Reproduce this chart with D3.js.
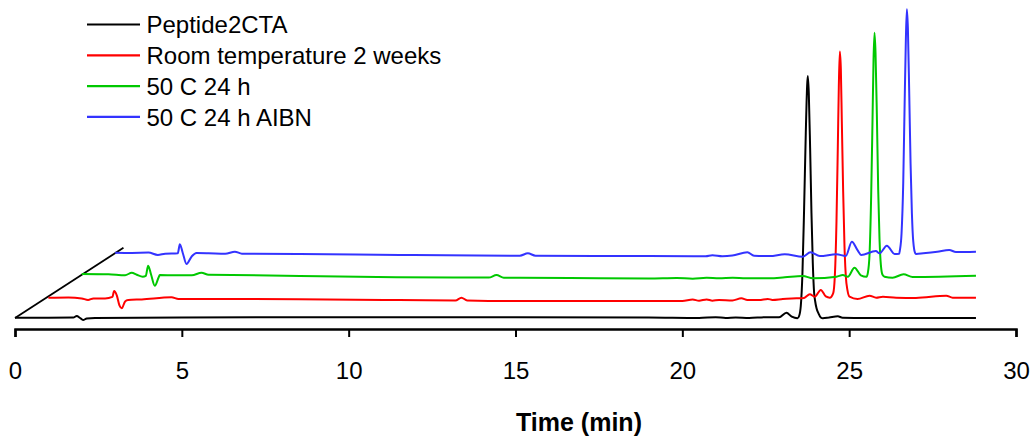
<!DOCTYPE html>
<meta charset="utf-8">
<script src="https://d3js.org/d3.v7.min.js"></script>
<style>
body { margin: 0; background: #fff; }
text { font-family: "Liberation Sans", Arial, sans-serif; }
</style>
<div id="chart"></div>
<script>
// series names and colours
var names = ["Peptide2CTA", "Room temperature 2 weeks", "50 C 24 h", "50 C 24 h AIBN"];
var colors = ["#000000", "#ff0000", "#00c800", "#3333ff"];
var xTicks = [0, 5, 10, 15, 20, 25, 30];

// each trace is stacked: shifted 1 min right and stackStep up from the previous one
var stackMin = 1;
var stackStep = 21.6;
var depthLine = [0, 3.25];   // diagonal "depth" axis, in stack units

// black: Peptide2CTA (time in min, signal)
var peptideTime = [0, 1.0, 1.75, 1.85, 1.95, 2.04, 2.15, 2.4, 5, 10, 15, 19, 20.5, 21.0, 21.3, 21.6, 22.0, 22.5, 22.9,
  23.12, 23.28, 23.45, 23.5, 23.55, 23.6, 23.65, 23.7, 23.74, 23.76, 23.79, 23.83, 23.87, 23.91, 23.95, 23.98,
  24.02, 24.08, 24.15, 24.21, 24.4, 24.66, 24.8, 25.5, 28.8];
var peptideSignal = [0.3, 0.3, 0.5, 2, 0, -2, -0.5, 0, 0.5, 0.7, 0.7, 0.5, 0, 0.8, 0, 0.5, 0, 0.8, 0.8,
  5.3, 1.3, -0.3, 2, 12, 45, 110, 185, 232, 242, 225, 170, 105, 55, 25, 17,
  10, 4.7, 0.5, -0.3, 0.5, 1.7, 0.3, 0, 0];

// red: Room temperature 2 weeks
var roomTime = [0, 0.6, 1.0, 1.19, 1.35, 1.7, 1.92, 1.97, 2.05, 2.13, 2.2, 2.3, 2.39, 2.8, 3.69, 3.9, 5, 7.5, 10.5,
  12.2, 12.38, 12.55, 14.1, 16.5, 19.0, 19.31, 19.5, 19.73, 19.9, 20.1, 20.5, 20.77, 20.95, 21.3, 21.56, 21.7,
  22.01, 22.42, 22.65, 22.82, 22.97, 23.15, 23.3, 23.42, 23.52, 23.57, 23.62, 23.66, 23.69, 23.72, 23.75, 23.78,
  23.82, 23.86, 23.9, 23.95, 24.01, 24.25, 24.61, 24.81, 25.01, 25.41, 26.0, 26.91, 27.1, 27.8];
var roomSignal = [-1.3, -1.0, -2.0, -3.6, -2.0, -2.0, -0.5, 5.4, 1, -9, -11.9, -5, -3.6, -3, -0.9, -2.5, -2.5, -2.9, -3.6,
  -4, -1.3, -4, -4.6, -4.6, -4.6, -3.2, -4.3, -3.0, -4.3, -3.6, -4, -1.9, -3.6, -3.6, -2.5, -3.5,
  -2.6, -1.9, -1.5, 2.1, -0.3, 6.4, 0, -1.3, 3, 20, 75, 150, 210, 245, 228, 175,
  105, 50, 20, 6, -0.3, -2.6, 0.7, -1.3, -0.3, -1.3, -1.5, 0.7, -1.3, -1.3];

// green: 50 C 24 h
var heatTime = [0, 0.8, 1.3, 1.5, 1.65, 1.83, 1.92, 1.99, 2.08, 2.19, 2.3, 2.34, 2.8, 3.3, 3.59, 3.8, 4.5, 6.54, 9.43,
  12.2, 12.43, 12.65, 13.13, 15.5, 17.0, 17.83, 18.31, 18.73, 19.1, 19.51, 19.9, 20.62, 21.07, 21.61, 21.91,
  22.62, 22.81, 22.96, 23.16, 23.35, 23.52, 23.56, 23.61, 23.66, 23.7, 23.73, 23.76, 23.79, 23.83, 23.87, 23.91,
  23.95, 24.0, 24.06, 24.3, 24.63, 24.9, 26.8];
var heatSignal = [0.8, 0.5, -0.5, 2.1, 0, -1.9, -1, 9.1, 0, -10.9, -3, -0.2, -0.5, -0.5, 2.1, 0, -0.2, -1.2, -2.5,
  -2.8, -0.2, -2.9, -2.9, -3.5, -3.7, -3.2, -3.9, -3.0, -3.5, -3.0, -3.5, -3.5, -2.5, -1.2, -3.5,
  -1.9, -0.2, -1.9, 7.1, -0.5, -1.9, 2, 20, 80, 155, 215, 242, 222, 160, 85, 35,
  10, 0, -1.9, -2.9, 0.5, -2.2, -0.9];

// blue: 50 C 24 h AIBN
var aibnTime = [0, 0.5, 1.0, 1.28, 1.5, 1.88, 1.94, 2.03, 2.14, 2.3, 2.44, 2.8, 3.3, 3.59, 3.8, 5.54, 8.53, 12.13,
  12.37, 12.6, 16.0, 17.7, 17.9, 18.2, 18.5, 18.95, 19.15, 19.62, 20.07, 20.61, 20.84, 21.12, 21.62, 21.9,
  22.08, 22.25, 22.36, 22.8, 22.91, 23.13, 23.36, 23.5, 23.52, 23.57, 23.62, 23.66, 23.7, 23.73, 23.76, 23.8,
  23.84, 23.88, 23.92, 23.98, 24.01, 24.22, 24.64, 25.0, 25.2, 25.8];
var aibnSignal = [0.5, 0.3, 0.6, -1.8, -0.5, 0, 8.9, 0, -10.8, -3, 0.2, 0, -0.5, 1.5, -0.5, -0.8, -1.8, -2.5,
  -0.1, -2.5, -2.8, -3, -2.0, -3.0, -2.3, 0.9, -2.5, -2.8, -1.1, -3.5, 0.9, -2.8, -1.1, -2.8,
  11.5, 3, -1.8, 2.2, -0.1, 7.5, -0.8, -0.5, 3, 20, 70, 145, 215, 244, 225, 160,
  90, 40, 12, 0, -0.8, -0.1, 1.5, 3.2, 1.2, 1.5];

var traces = [
  { time: peptideTime, signal: peptideSignal },
  { time: roomTime, signal: roomSignal },
  { time: heatTime, signal: heatSignal },
  { time: aibnTime, signal: aibnSignal }
];

var width = 1033, height = 438;

var svg = d3.select("#chart")
  .append("svg")
  .attr("width", width)
  .attr("height", height);

var x = d3.scaleLinear()
  .domain([0, 30])
  .range([15, 1016]);

var y = d3.scaleLinear()
  .domain([0, 300])
  .range([318, 18]);

// x axis
var axis = svg.append("g")
  .attr("transform", "translate(0,329)")
  .call(d3.axisBottom(x).tickValues(xTicks).tickSize(8).tickSizeOuter(8).tickPadding(25));
axis.select(".domain").attr("stroke", "#000").attr("stroke-width", 2.5);
axis.selectAll(".tick line").attr("stroke", "#000").attr("stroke-width", 2);
axis.selectAll(".tick text")
  .attr("fill", "#000")
  .style("font-size", "24px")
  .style("font-family", "'Liberation Sans', Arial, sans-serif");

svg.append("text")
  .attr("x", 579)
  .attr("y", 431)
  .attr("text-anchor", "middle")
  .style("font-size", "25px")
  .style("font-weight", "bold")
  .text("Time (min)");

// diagonal depth line
svg.append("line")
  .attr("x1", x(depthLine[0] * stackMin))
  .attr("y1", y(depthLine[0] * stackStep))
  .attr("x2", x(depthLine[1] * stackMin))
  .attr("y2", y(depthLine[1] * stackStep))
  .attr("stroke", "#000")
  .attr("stroke-width", 1.8);

// traces, back to front
traces.forEach(function(tr, k) {
  var pts = tr.time.map(function(t, i) { return [t + k * stackMin, tr.signal[i] + k * stackStep]; });
  svg.append("path")
    .datum(pts)
    .attr("fill", "none")
    .attr("stroke", colors[k])
    .attr("stroke-width", 2)
    .attr("stroke-linejoin", "round")
    .attr("d", d3.line()
      .curve(d3.curveMonotoneX)
      .x(function(d) { return x(d[0]); })
      .y(function(d) { return y(d[1]); }));
});

// legend
var legend = svg.append("g");
names.forEach(function(n, i) {
  var ly = 24.5 + i * 30.8;
  legend.append("line")
    .attr("x1", 87).attr("x2", 140)
    .attr("y1", ly).attr("y2", ly)
    .attr("stroke", colors[i])
    .attr("stroke-width", 2.2);
  legend.append("text")
    .attr("x", 146.5)
    .attr("y", ly + 8.7)
    .style("font-size", "24px")
    .text(n);
});
</script>
